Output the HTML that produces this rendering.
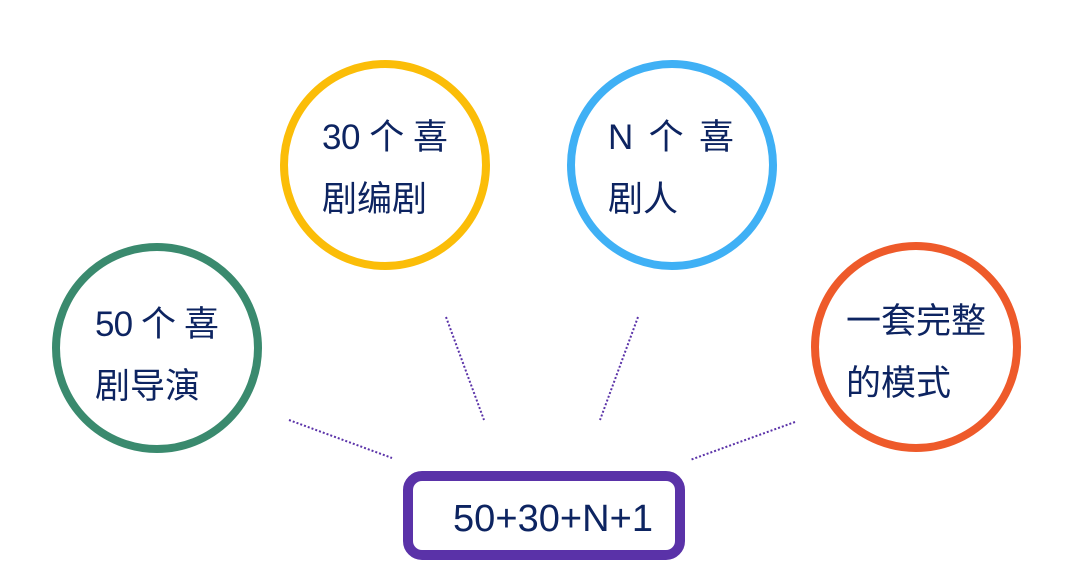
<!DOCTYPE html>
<html><head><meta charset="utf-8"><style>
html,body{margin:0;padding:0;background:#fff;}
svg{display:block}
text{font-family:"Liberation Sans","Noto Sans CJK SC",sans-serif;fill:#0d2461;font-size:35px;}
</style></head><body>
<svg width="1072" height="580" viewBox="0 0 1072 580">
<g fill="none" stroke-width="8">
<circle cx="157" cy="348" r="101" stroke="#3a8a6e"/>
<circle cx="385" cy="165" r="101" stroke="#fbbd08"/>
<circle cx="672" cy="165" r="101" stroke="#3fb0f5"/>
<circle cx="916" cy="347" r="101" stroke="#ee5a2a"/>
<rect x="408" y="476" width="272" height="79" rx="14" stroke="#5a32a8" stroke-width="10"/>
</g>
<g stroke="#5a32a8" stroke-width="2" stroke-dasharray="2 2" fill="none">
<line x1="289" y1="420" x2="392" y2="458"/>
<line x1="446" y1="317" x2="484" y2="420"/>
<line x1="638" y1="317" x2="600" y2="420"/>
<line x1="795" y1="422" x2="690" y2="460"/>
</g>
<text x="95" y="336" textLength="124">50 个 喜</text>
<text x="95" y="398">剧导演</text>
<text x="322" y="149" textLength="126">30 个 喜</text>
<text x="322" y="211">剧编剧</text>
<text x="608" y="149" textLength="126">N 个 喜</text>
<text x="608" y="211">剧人</text>
<text x="846" y="333">一套完整</text>
<text x="846" y="395">的模式</text>
<text x="453" y="531" style="font-size:38px" textLength="200">50+30+N+1</text>
</svg>
</body></html>
